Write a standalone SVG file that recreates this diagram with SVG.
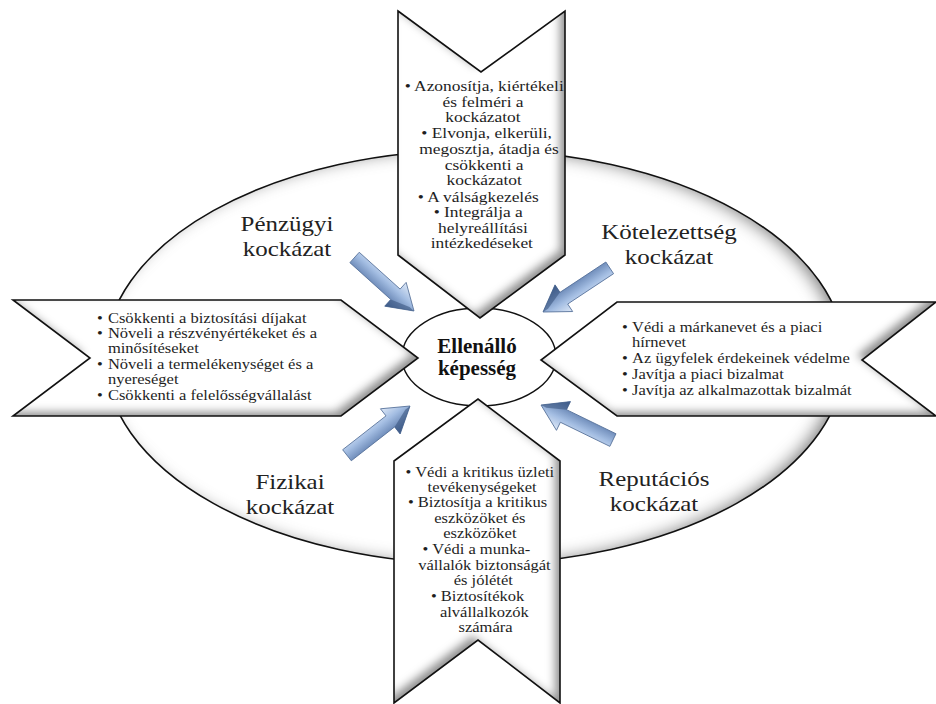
<svg xmlns="http://www.w3.org/2000/svg" width="936" height="704" viewBox="0 0 936 704">
  <style>
    .outline { fill: none; stroke: #111; stroke-width: 1.6; stroke-linejoin: miter; }
    .panel { fill: #ffffff; }
    text { font-family: 'Liberation Serif', 'DejaVu Serif', serif; }
    .risk { font-size: 21.5px; fill: #222; text-anchor: middle; }
    .core { font-size: 20px; font-weight: bold; fill: #111; text-anchor: middle; }
    .item { font-size: 14.5px; fill: #1e1e1e; }
    .item-c { font-size: 14.5px; fill: #1e1e1e; text-anchor: middle; }
  </style>
  <defs>
    <!-- soft inner rim, darker toward the lower right -->
    <filter id="bevel" x="-5%" y="-5%" width="110%" height="110%">
      <feOffset in="SourceAlpha" dx="-6" dy="-5" result="off"/>
      <feGaussianBlur in="off" stdDeviation="4" result="blur"/>
      <feComposite in="SourceAlpha" in2="blur" operator="out" result="rim"/>
      <feFlood flood-color="#707070" flood-opacity="0.85"/>
      <feComposite in2="rim" operator="in" result="shade"/>
      <feMerge><feMergeNode in="SourceGraphic"/><feMergeNode in="shade"/></feMerge>
    </filter>
    <filter id="ringShade" x="-5%" y="-5%" width="110%" height="110%">
      <feOffset in="SourceAlpha" dx="-8" dy="0" result="off"/>
      <feGaussianBlur in="off" stdDeviation="8" result="blur"/>
      <feComposite in="SourceAlpha" in2="blur" operator="out" result="rim"/>
      <feFlood flood-color="#666666" flood-opacity="0.9"/>
      <feComposite in2="rim" operator="in" result="shade"/>
      <feMerge><feMergeNode in="SourceGraphic"/><feMergeNode in="shade"/></feMerge>
    </filter>
    <linearGradient id="steel" x1="0" y1="0" x2="0" y2="1">
      <stop offset="0" stop-color="#dfe9f7"/>
      <stop offset="0.4" stop-color="#a3bde2"/>
      <stop offset="1" stop-color="#46669a"/>
    </linearGradient>
    <!-- small block arrow, tip at the origin, pointing along +x -->
    <g id="blueArrow">
      <polygon points="-80,-7 -25,-7 -25,-16 0,0 -25,16 -25,7 -80,7" fill="url(#steel)" stroke="#557099" stroke-width="0.8" stroke-linejoin="round"/>
      <polygon points="-25,7 -25,16 0,0 -6,0" fill="#35507a" opacity="0.55"/>
    </g>
  </defs>

  <!-- outer risk ring -->
  <g id="ring">
    <ellipse cx="475" cy="357" rx="370" ry="207" class="panel" filter="url(#ringShade)"/>
    <ellipse cx="475" cy="357" rx="370" ry="207" class="outline"/>
  </g>

  <!-- risk labels (widened serif, two lines each) -->
  <g id="label-financial" transform="translate(287,0) scale(1.16,1) translate(-287,0)">
    <text class="risk" x="287" y="231">Pénzügyi</text>
    <text class="risk" x="287" y="256">kockázat</text>
  </g>
  <g id="label-liability" transform="translate(669,0) scale(1.16,1) translate(-669,0)">
    <text class="risk" x="669" y="239">Kötelezettség</text>
    <text class="risk" x="669" y="264">kockázat</text>
  </g>
  <g id="label-physical" transform="translate(290,0) scale(1.16,1) translate(-290,0)">
    <text class="risk" x="290" y="489">Fizikai</text>
    <text class="risk" x="290" y="514">kockázat</text>
  </g>
  <g id="label-reputation" transform="translate(654,0) scale(1.16,1) translate(-654,0)">
    <text class="risk" x="654" y="486">Reputációs</text>
    <text class="risk" x="654" y="511">kockázat</text>
  </g>

  <!-- arrows pointing at the core -->
  <g id="connectors">
    <use href="#blueArrow" transform="translate(414,311) rotate(42)"/>
    <use href="#blueArrow" transform="translate(543,312) rotate(146.5)"/>
    <use href="#blueArrow" transform="translate(410,406) rotate(-38)"/>
    <use href="#blueArrow" transform="translate(541,405) rotate(-154)"/>
  </g>

  <!-- core -->
  <g id="core">
    <ellipse cx="479" cy="357" rx="77" ry="49" fill="#fff" stroke="#111" stroke-width="1.4"/>
    <g transform="translate(477,0) scale(1.05,1) translate(-477,0)">
      <text class="core" x="477" y="353.5">Ellenálló</text>
      <text class="core" x="477" y="375.5">képesség</text>
    </g>
  </g>

  <!-- top panel: risk management -->
  <g id="panel-top">
    <polygon class="panel" filter="url(#bevel)" points="398,11 481,72 565,11 565,255 480,318 398,255"/>
    <polygon class="outline" points="398,11 481,72 565,11 565,255 480,318 398,255"/>
    <g transform="translate(483,0) scale(1.2,1) translate(-483,0)">
      <text class="item-c" x="484" y="91">• Azonosítja, kiértékeli</text>
      <text class="item-c" x="483" y="107">és felméri a</text>
      <text class="item-c" x="483" y="122">kockázatot</text>
      <text class="item-c" x="486" y="138">• Elvonja, elkerüli,</text>
      <text class="item-c" x="488" y="154">megosztja, átadja és</text>
      <text class="item-c" x="484" y="170">csökkenti a</text>
      <text class="item-c" x="484" y="185">kockázatot</text>
      <text class="item-c" x="479" y="202">• A válságkezelés</text>
      <text class="item-c" x="479" y="217">• Integrálja a</text>
      <text class="item-c" x="483" y="233">helyreállítási</text>
      <text class="item-c" x="482" y="248">intézkedéseket</text>
    </g>
  </g>

  <!-- left panel: financial benefits -->
  <g id="panel-left">
    <polygon class="panel" filter="url(#bevel)" points="13,300 341,300 418,358 341,416 13,416 90,358"/>
    <polygon class="outline" points="13,300 341,300 418,358 341,416 13,416 90,358"/>
    <g transform="translate(97,0) scale(1.14,1) translate(-97,0)">
      <text class="item" x="97" y="323">•<tspan x="106.6">Csökkenti a biztosítási díjakat</tspan></text>
      <text class="item" x="97" y="338">•<tspan x="106.6">Növeli a részvényértékeket és a</tspan></text>
      <text class="item" x="106.6" y="353">minősítéseket</text>
      <text class="item" x="97" y="369">•<tspan x="106.6">Növeli a termelékenységet és a</tspan></text>
      <text class="item" x="106.6" y="384">nyereséget</text>
      <text class="item" x="97" y="400">•<tspan x="106.6">Csökkenti a felelősségvállalást</tspan></text>
    </g>
  </g>

  <!-- right panel: reputation benefits -->
  <g id="panel-right">
    <polygon class="panel" filter="url(#bevel)" points="617,302 936,302 862,360 936,416 617,416 541,360"/>
    <polygon class="outline" points="617,302 936,302 862,360 936,416 617,416 541,360"/>
    <g transform="translate(622,0) scale(1.14,1) translate(-622,0)">
      <text class="item" x="622" y="332">•<tspan x="630.8">Védi a márkanevet és a piaci</tspan></text>
      <text class="item" x="630.8" y="347">hírnevet</text>
      <text class="item" x="622" y="363">•<tspan x="630.8">Az ügyfelek érdekeinek védelme</tspan></text>
      <text class="item" x="622" y="379">•<tspan x="630.8">Javítja a piaci bizalmat</tspan></text>
      <text class="item" x="622" y="395">•<tspan x="630.8">Javítja az alkalmazottak bizalmát</tspan></text>
    </g>
  </g>

  <!-- bottom panel: physical protection -->
  <g id="panel-bottom">
    <polygon class="panel" filter="url(#bevel)" points="394,461 478,399 560,461 560,703 478,640 394,703"/>
    <polygon class="outline" points="394,461 478,399 560,461 560,703 478,640 394,703"/>
    <g transform="translate(481,0) scale(1.14,1) translate(-481,0)">
      <text class="item-c" x="480" y="477">• Védi a kritikus üzleti</text>
      <text class="item-c" x="482" y="492">tevékenységeket</text>
      <text class="item-c" x="478" y="507">• Biztosítja a kritikus</text>
      <text class="item-c" x="480" y="523">eszközöket és</text>
      <text class="item-c" x="480" y="538">eszközöket</text>
      <text class="item-c" x="477" y="554">• Védi a munka-</text>
      <text class="item-c" x="484" y="570">vállalók biztonságát</text>
      <text class="item-c" x="483" y="585">és jólétét</text>
      <text class="item-c" x="478" y="601">• Biztosítékok</text>
      <text class="item-c" x="484" y="617">alvállalkozók</text>
      <text class="item-c" x="485" y="632">számára</text>
    </g>
  </g>
</svg>
